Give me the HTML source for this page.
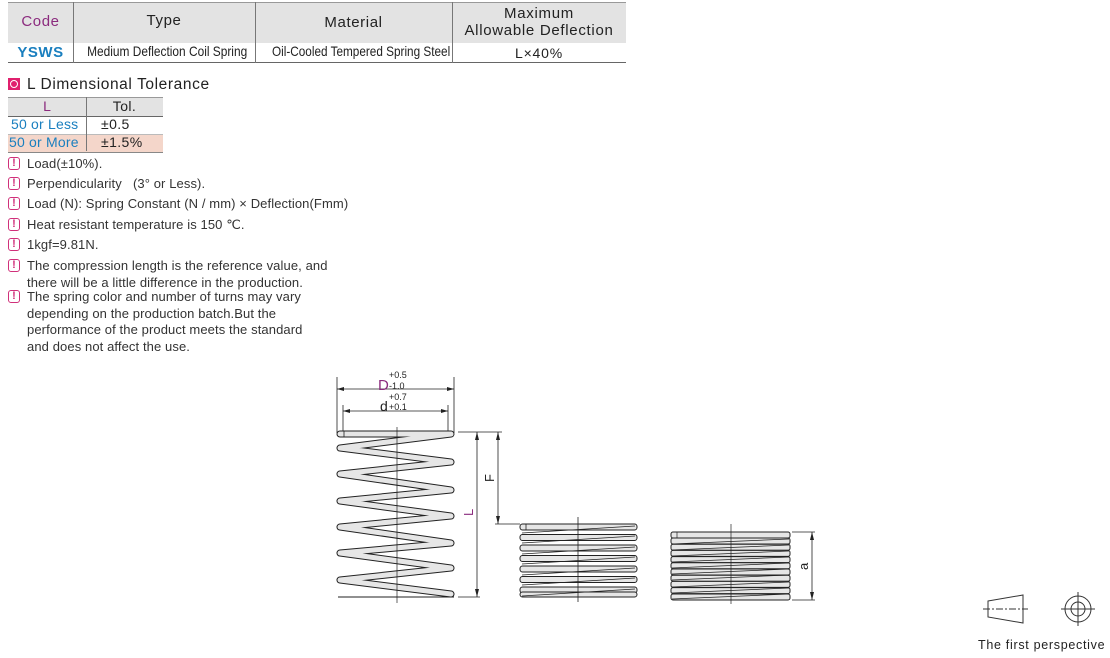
<!DOCTYPE html>
<html><head><meta charset="utf-8"><style>
body{margin:0;width:1110px;height:658px;background:#fff;position:relative;font-family:"Liberation Sans",sans-serif;color:#222;overflow:hidden}
.a{position:absolute;white-space:nowrap}
.n{position:absolute;left:8px;font-size:13px;line-height:16.5px;color:#333;letter-spacing:0.1px}
.n i{position:absolute;left:0;top:1px;width:10px;height:11px;border:1.8px solid #d0307a;border-radius:3px;font-style:normal;font-weight:bold;font-size:11px;line-height:11px;text-align:center;color:#d0307a;letter-spacing:0}
.n span{display:block;padding-left:19px}
.c{display:inline-block;transform:scaleX(.84);transform-origin:center}
</style></head><body>
<div class="a" style="left:8px;top:2px;width:618px;height:40px;background:#e3e3e3;border-top:1px solid #999"></div>
<div class="a" style="left:8px;top:62px;width:618px;height:1px;background:#666"></div>
<div class="a" style="left:73px;top:2px;width:1px;height:61px;background:#777"></div>
<div class="a" style="left:255px;top:2px;width:1px;height:61px;background:#777"></div>
<div class="a" style="left:452px;top:2px;width:1px;height:61px;background:#777"></div>
<div class="a" style="left:8px;top:13px;width:65px;text-align:center;font-size:15px;letter-spacing:.6px;color:#8b2b7e">Code</div>
<div class="a" style="left:73px;top:12px;width:182px;text-align:center;font-size:15px;letter-spacing:.6px">Type</div>
<div class="a" style="left:255px;top:14px;width:197px;text-align:center;font-size:15px;letter-spacing:.6px">Material</div>
<div class="a" style="left:452px;top:5px;width:174px;text-align:center;font-size:15px;line-height:17px;letter-spacing:.7px">Maximum<br>Allowable Deflection</div>
<div class="a" style="left:8px;top:44px;width:65px;text-align:center;font-size:15px;font-weight:bold;color:#1a7fbf;letter-spacing:.5px">YSWS</div>
<div class="a" style="left:73px;top:43px;width:182px;text-align:center;font-size:14px"><span class="c" style="transform:scaleX(.85)">Medium Deflection Coil Spring</span></div>
<div class="a" style="left:255px;top:43px;width:197px;text-align:center;font-size:14px"><span class="c">Oil-Cooled Tempered Spring Steel</span></div>
<div class="a" style="left:452px;top:45px;width:174px;text-align:center;font-size:14px;letter-spacing:.8px">L×40%</div>
<div class="a" style="left:8px;top:78px;width:12px;height:12px;background:#e0206e"></div>
<div class="a" style="left:10px;top:80px;width:6px;height:6px;border:1px solid #fff;border-radius:50%"></div>
<div class="a" style="left:27px;top:76px;font-size:15.5px;letter-spacing:.6px">L Dimensional Tolerance</div>
<div class="a" style="left:8px;top:97px;width:155px;height:18px;background:#e3e3e3;border-top:1px solid #999;border-bottom:1px solid #666"></div>
<div class="a" style="left:8px;top:134px;width:155px;height:17px;background:#f4d6ca;border-top:1px solid #bbb;border-bottom:1.5px solid #888"></div>
<div class="a" style="left:86px;top:97px;width:1px;height:54px;background:#777"></div>
<div class="a" style="left:8px;top:98px;width:78px;text-align:center;font-size:14px;color:#8b2b7e">L</div>
<div class="a" style="left:86px;top:98px;width:77px;text-align:center;font-size:14px;letter-spacing:.4px">Tol.</div>
<div class="a" style="left:11px;top:116px;font-size:14px;color:#1a7fbf;letter-spacing:.2px">50 or Less</div>
<div class="a" style="left:101px;top:116px;font-size:14px;letter-spacing:.4px">±0.5</div>
<div class="a" style="left:9px;top:134px;font-size:14px;color:#1a7fbf;letter-spacing:.2px">50 or More</div>
<div class="a" style="left:101px;top:134px;font-size:14px;letter-spacing:.4px">±1.5%</div>
<div class="n" style="top:156px"><i>!</i><span>Load(±10%).</span></div>
<div class="n" style="top:176px"><i>!</i><span>Perpendicularity &nbsp;&nbsp;(3° or Less).</span></div>
<div class="n" style="top:196px"><i>!</i><span>Load (N): Spring Constant (N / mm) × Deflection(Fmm)</span></div>
<div class="n" style="top:217px"><i>!</i><span>Heat resistant temperature is 150 ℃.</span></div>
<div class="n" style="top:237px"><i>!</i><span>1kgf=9.81N.</span></div>
<div class="n" style="top:258px"><i>!</i><span>The compression length is the reference value, and<br>there will be a little difference in the production.</span></div>
<div class="n" style="top:289px"><i>!</i><span>The spring color and number of turns may vary<br>depending on the production batch.But the<br>performance of the product meets the standard<br>and does not affect the use.</span></div>
<svg class="a" style="left:0;top:0" width="1110" height="658" viewBox="0 0 1110 658">
<g stroke="#222" stroke-width="0.8" fill="none">
<line x1="337" y1="377" x2="337" y2="433"/><line x1="454" y1="377" x2="454" y2="433"/>
<line x1="343" y1="405" x2="343" y2="433"/><line x1="448" y1="405" x2="448" y2="433"/>
<line x1="337" y1="389" x2="454" y2="389"/><line x1="343" y1="411" x2="448" y2="411"/>
<line x1="458" y1="432" x2="502" y2="432"/><line x1="458" y1="597" x2="480" y2="597"/>
<line x1="477" y1="432" x2="477" y2="597"/><line x1="498" y1="432" x2="498" y2="524"/>
<line x1="495" y1="524" x2="520" y2="524"/>
<line x1="792" y1="532" x2="815" y2="532"/><line x1="792" y1="600" x2="815" y2="600"/>
<line x1="812" y1="532" x2="812" y2="600"/>
</g>
<g fill="#222">
<path d="M337 389l7-2v4zM454 389l-7-2v4zM343 411l7-2v4zM448 411l-7-2v4z"/>
<path d="M477 432l-2 8h4zM477 597l-2-8h4zM498 432l-2 8h4zM498 524l-2-8h4zM812 532l-2 8h4zM812 600l-2-8h4z"/>
</g>
<text x="378" y="390" font-size="15" fill="#8b2b7e" font-family="Liberation Sans">D</text>
<text x="389" y="378" font-size="9" fill="#222" font-family="Liberation Sans">+0.5</text>
<text x="389" y="389" font-size="9" fill="#222" font-family="Liberation Sans">-1.0</text>
<text x="380" y="411" font-size="14" fill="#222" font-family="Liberation Sans">d</text>
<text x="389" y="400" font-size="9" fill="#222" font-family="Liberation Sans">+0.7</text>
<text x="389" y="410" font-size="9" fill="#222" font-family="Liberation Sans">+0.1</text>
<text transform="translate(473,516) rotate(-90)" font-size="13" fill="#8b2b7e" font-family="Liberation Sans">L</text>
<text transform="translate(494,482) rotate(-90)" font-size="13" fill="#222" font-family="Liberation Sans">F</text>
<text transform="translate(808,570) rotate(-90)" font-size="13" fill="#222" font-family="Liberation Sans">a</text>
<g fill="none" stroke-linecap="round" stroke-linejoin="round">
<polyline stroke="#222" stroke-width="7" points="340,434 451,434 340,448 451,462 340,474 451,490 340,501 451,516 340,527 451,543 340,553 451,568 340,580 451,594"/>
<polyline stroke="#e6e6e6" stroke-width="5" points="340,434 451,434 340,448 451,462 340,474 451,490 340,501 451,516 340,527 451,543 340,553 451,568 340,580 451,594"/>
</g>
<line x1="338" y1="597" x2="454" y2="597" stroke="#222" stroke-width="1"/>
<line x1="344" y1="431" x2="344" y2="437" stroke="#222" stroke-width="0.8"/>
<g stroke="#222" stroke-width="1" fill="#e6e6e6">
<rect x="520" y="524" width="117" height="6" rx="2.5"/>
<rect x="520" y="534.5" width="117" height="6" rx="2.5"/>
<rect x="520" y="545" width="117" height="6" rx="2.5"/>
<rect x="520" y="555.5" width="117" height="6" rx="2.5"/>
<rect x="520" y="566" width="117" height="6" rx="2.5"/>
<rect x="520" y="576.5" width="117" height="6" rx="2.5"/>
<rect x="520" y="587" width="117" height="6" rx="2.5"/>
<rect x="520" y="592" width="117" height="5" rx="2.5"/>
</g>
<g stroke="#222" stroke-width="0.8">
<line x1="522" y1="533" x2="635" y2="526"/><line x1="522" y1="543" x2="635" y2="536"/><line x1="522" y1="554" x2="635" y2="547"/><line x1="522" y1="564" x2="635" y2="557"/><line x1="522" y1="575" x2="635" y2="568"/><line x1="522" y1="585" x2="635" y2="578"/><line x1="522" y1="596" x2="635" y2="589"/>
<line x1="526" y1="524" x2="526" y2="530"/>
<line x1="578" y1="517" x2="578" y2="602"/>
</g>
<g stroke="#222" stroke-width="1" fill="#e6e6e6">
<rect x="671" y="532" width="119" height="6" rx="2"/>
<rect x="671" y="538" width="119" height="6" rx="2"/>
<rect x="671" y="544.2" width="119" height="6" rx="2"/>
<rect x="671" y="550.4" width="119" height="6" rx="2"/>
<rect x="671" y="556.6" width="119" height="6" rx="2"/>
<rect x="671" y="562.8" width="119" height="6" rx="2"/>
<rect x="671" y="569" width="119" height="6" rx="2"/>
<rect x="671" y="575.2" width="119" height="6" rx="2"/>
<rect x="671" y="581.4" width="119" height="6" rx="2"/>
<rect x="671" y="587.6" width="119" height="6" rx="2"/>
<rect x="671" y="594" width="119" height="6" rx="2"/>
</g>
<g stroke="#222" stroke-width="0.7">
<line x1="672" y1="544" x2="789" y2="539"/><line x1="672" y1="550" x2="789" y2="545"/><line x1="672" y1="556" x2="789" y2="551"/><line x1="672" y1="562" x2="789" y2="557"/><line x1="672" y1="568" x2="789" y2="563"/><line x1="672" y1="574" x2="789" y2="569"/><line x1="672" y1="580" x2="789" y2="575"/><line x1="672" y1="587" x2="789" y2="582"/><line x1="672" y1="593" x2="789" y2="588"/><line x1="672" y1="599" x2="789" y2="594"/>
<line x1="677" y1="532" x2="677" y2="538"/>
<line x1="731" y1="524" x2="731" y2="604"/>
</g>
<line x1="397" y1="427" x2="397" y2="603" stroke="#222" stroke-width="0.7"/>
<g stroke="#333" stroke-width="1" fill="none">
<path d="M988 601L1023 595L1023 623L988 617Z"/>
<line x1="983" y1="609" x2="1028" y2="609" stroke-dasharray="7,2,2,2"/>
<circle cx="1078" cy="609" r="13"/><circle cx="1078" cy="609" r="7"/>
<line x1="1061" y1="609" x2="1095" y2="609"/><line x1="1078" y1="592" x2="1078" y2="626"/>
</g>
<text x="978" y="649" font-size="12.5" letter-spacing="0.7" fill="#222" font-family="Liberation Sans">The first perspective</text>
</svg>
</body></html>
